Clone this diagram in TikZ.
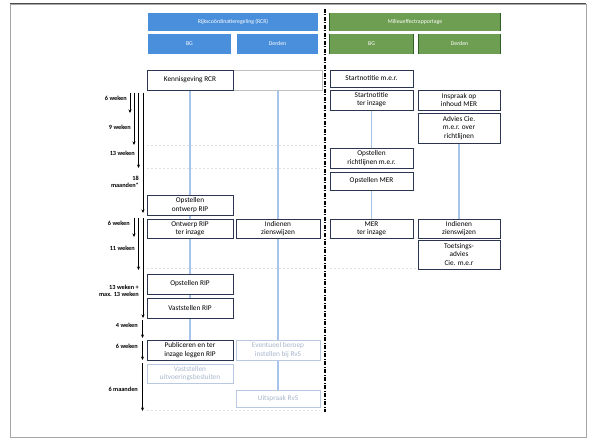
\documentclass[tikz,border=0pt]{standalone}
\usepackage{fontspec}
\setmainfont{Carlito}
\usetikzlibrary{arrows.meta,backgrounds}
\definecolor{hblue}{HTML}{4A8FDB}
\definecolor{hgreen}{HTML}{6E9E52}
\definecolor{dgreen}{HTML}{2E5F26}
\definecolor{bxline}{HTML}{2B3550}
\definecolor{vline}{HTML}{A9C4EA}
\definecolor{faded}{HTML}{B9C9E2}
\definecolor{fadetxt}{HTML}{A8B6CC}
\newcommand\bx[7]{\node[#1,minimum width={(#5-#3)*1pt},minimum height={(#6-#4)*1pt}] (#2) at ({(#3+#5)/2},{(#4+#6)/2}) {#7};}
\tikzset{
  box/.style={draw=bxline,line width=0.8pt,fill=white,inner sep=0.5pt,align=center,font=\fontsize{7.3}{8.2}\selectfont,text=black},
  fbox/.style={box,draw=faded,text=fadetxt},
  rowbox/.style={draw=black!25,line width=0.5pt,inner sep=0pt},
  hbl/.style={fill=hblue,draw=none,inner sep=0pt,text=white,font=\fontsize{5.8}{6.5}\selectfont},
  hgr/.style={fill=hgreen,draw=none,inner sep=0pt,text=white,font=\fontsize{5.8}{6.5}\selectfont},
  col/.style={draw=vline,line width=1.1pt},
  tarrow/.style={-{Stealth[length=3.5pt,width=3pt]},line width=0.9pt},
  tlab/.style={font=\fontsize{6.3}{7}\selectfont\bfseries,align=right,anchor=east,inner sep=0pt},
  grid/.style={draw=black!12,line width=0.5pt,dash pattern=on 2pt off 2pt}
}
\begin{document}
\begin{tikzpicture}[x=1pt,y=-1pt]
\useasboundingbox (0,0) rectangle (595,441);
\draw[black!35,line width=0.6pt] (10,4) rectangle (586,437);
\draw[black!70,line width=1pt] (10,4) -- (586,4);
% headers
\bx{hbl}{hrcr}{148}{13}{318}{31}{Rijkscoördinatieregeling (RCR)}
\bx{hbl}{hbg1}{148}{34}{231}{54}{BG}
\bx{hbl}{hder1}{237}{34}{318}{54}{Derden}
\bx{hgr}{hmer}{330}{13}{500}{31}{Milieueffectrapportage}
\bx{hgr}{hbg2}{330}{34}{413}{54}{BG}
\bx{hgr}{hder2}{419}{34}{500}{54}{Derden}
\foreach \n in {hmer,hbg2,hder2}{\draw[dgreen,line width=0.9pt] (\n.north west)--(\n.south west) (\n.north east)--(\n.south east);}
% center divider
\coordinate (dtop) at (325,9);
\coordinate (dbot) at (325,412);
\draw[line width=1.1pt,dash pattern=on 4pt off 1.5pt on 1pt off 1.5pt] (dtop) -- (dbot);
% faint grid
\draw[grid] (147,145) -- (320,145);
\draw[grid] (147,168) -- (320,168);
\draw[grid] (147,268) -- (320,268);
\draw[grid] (330,268) -- (500,268);
\draw[grid] (147,410) -- (320,410);
% row box
\bx{rowbox}{rcrrow}{147}{70}{322}{90}{}
% left boxes
\bx{box}{kenn}{147}{70}{233}{90}{Kennisgeving RCR}
\bx{box}{ontw}{147}{195}{233}{215}{Opstellen\\ontwerp RIP}
\bx{box}{ontwinz}{147}{219}{233}{238}{Ontwerp RIP\\ter inzage}
\bx{box}{zien1}{236}{219}{320}{238}{Indienen\\zienswijzen}
\bx{box}{opst}{147}{274}{233}{294}{Opstellen RIP}
\bx{box}{vast}{147}{298}{233}{318}{Vaststellen RIP}
\bx{box}{publ}{147}{340}{233}{360}{Publiceren en ter\\inzage leggen RIP}
\bx{fbox}{beroep}{236}{340}{320}{360}{Eventueel beroep\\instellen bij RvS}
\bx{fbox}{uitv}{147}{364}{233}{383}{Vaststellen\\uitvoeringsbesluiten}
\bx{fbox}{uitspr}{236}{390}{320}{407}{Uitspraak RvS}
% right boxes
\bx{box}{start}{330}{70}{413}{87}{Startnotitie m.e.r.}
\bx{box}{startinz}{330}{90}{413}{110}{Startnotitie\\ter inzage}
\bx{box}{insp}{418}{90}{500}{110}{Inspraak op\\inhoud MER}
\bx{box}{adv}{418}{113}{500}{143}{Advies Cie.\\m.e.r. over\\richtlijnen}
\bx{box}{richt}{330}{148}{413}{168}{Opstellen\\richtlijnen m.e.r.}
\bx{box}{opmer}{330}{172}{413}{190}{Opstellen MER}
\bx{box}{merinz}{330}{219}{413}{238}{MER\\ter inzage}
\bx{box}{zien2}{418}{219}{500}{238}{Indienen\\zienswijzen}
\bx{box}{toets}{418}{240}{500}{269}{Toetsings-\\advies\\Cie. m.e.r}
% column lines
\begin{scope}[on background layer]
\draw[col] (kenn.south) -- (publ.north);
\draw[col] (rcrrow.south -| zien1) -- (zien1.north);
\draw[col] (zien1.south) -- (beroep.north);
\draw[col] (beroep.south) -- (uitspr.north);
\draw[col] (startinz.south) -- (richt.north);
\draw[col] (opmer.south) -- (merinz.north);
\draw[col] (adv.south) -- (zien2.north);
\end{scope}
% time arrows
\draw[tarrow] (130,93) -- (130,113);
\draw[tarrow] (134,93) -- (134,145);
\draw[tarrow] (138.5,93) -- (138.5,168);
\draw[tarrow] (143,93) -- (143,213);
\node[tlab] (t1) at (127,98) {6 weken};
\node[tlab] (t2) at (131,127) {9 weken};
\node[tlab] (t3) at (135,153) {13 weken};
\node[tlab] (t4) at (139,182) {18\\maanden*};
\draw[tarrow] (134,218) -- (134,237);
\draw[tarrow] (138.5,218) -- (138.5,270);
\draw[tarrow] (143,218) -- (143,318);
\node[tlab] (t5) at (130,223) {6 weken};
\node[tlab] (t6) at (135,248) {11 weken};
\node[tlab] (t7) at (139,291) {13 weken +\\max. 13 weken};
\draw[tarrow] (142.5,320) -- (142.5,338);
\draw[tarrow] (142.5,341) -- (142.5,360);
\draw[tarrow] (142.5,363) -- (142.5,411);
\node[tlab] (t8) at (138,325) {4 weken};
\node[tlab] (t9) at (138,346) {6 weken};
\node[tlab] (t10) at (138,389) {6 maanden};
\end{tikzpicture}
\end{document}
